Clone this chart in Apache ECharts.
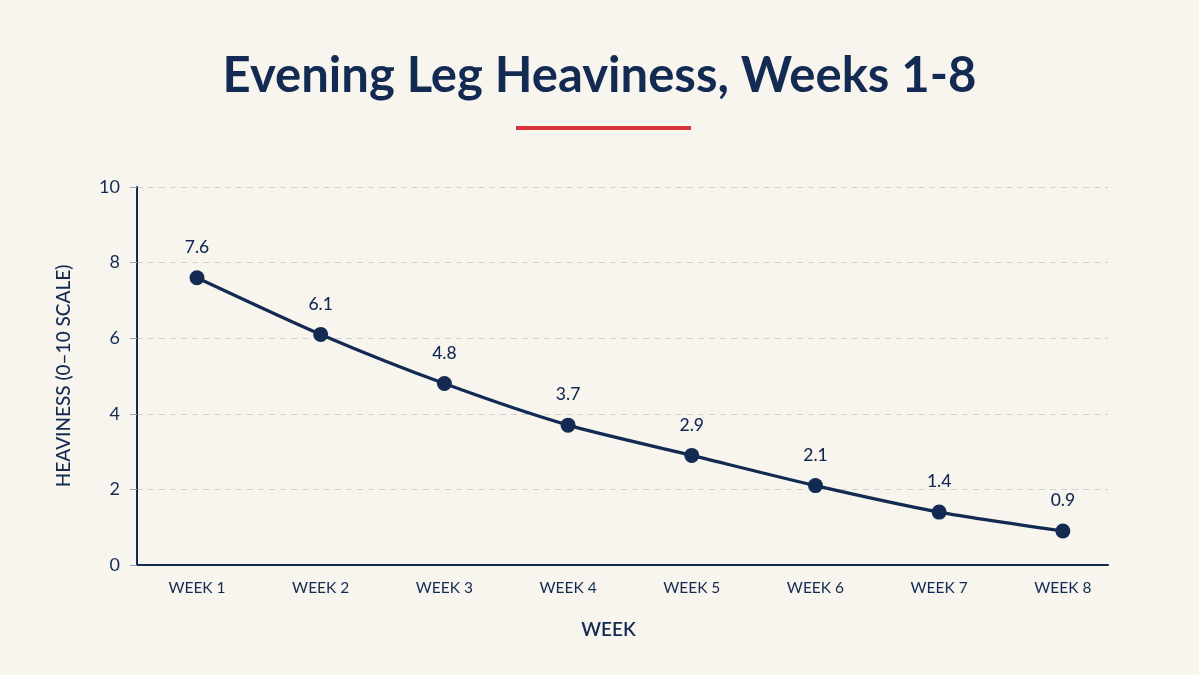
<!DOCTYPE html>
<html><head><meta charset="utf-8">
<script src="https://cdn.jsdelivr.net/npm/echarts@6/dist/echarts.min.js"></script>
<style>html,body{margin:0;padding:0;background:#f8f5ef;}#c{width:1199px;height:675px;}</style>
</head><body><div id="c"></div>
<script>
const titleText = 'Evening Leg Heaviness, Weeks 1-8';
const categories = ['WEEK 1','WEEK 2','WEEK 3','WEEK 4','WEEK 5','WEEK 6','WEEK 7','WEEK 8'];
const heaviness = [7.6, 6.1, 4.8, 3.7, 2.9, 2.1, 1.4, 0.9];
const yTicks = [0, 2, 4, 6, 8, 10];
const xName = 'WEEK';
const yName = 'HEAVINESS (0\u201310 SCALE)';

const navy = '#132a52';
const chart = echarts.init(document.getElementById('c'));
chart.setOption({
  backgroundColor: '#f8f5ef',
  animation: false,
  title: {
    text: titleText, left: 'center', top: 47,
    textStyle: { fontFamily: 'Lato', fontWeight: 700, fontSize: 49, color: navy }
  },
  graphic: [{ type: 'rect', shape: { x: 516, y: 126, width: 175, height: 4 }, style: { fill: '#d9323a' } }],
  grid: { left: 137, right: 91, top: 187, bottom: 110 },
  xAxis: {
    type: 'value', min: -0.485, max: 7.365,
    name: xName, nameLocation: 'middle', nameGap: 55,
    nameTextStyle: { fontFamily: 'Lato', fontSize: 19, fontWeight: 600, color: navy, padding: [0, 28, 0, 0] },
    axisLine: { show: true, onZero: false, lineStyle: { color: navy, width: 2 } },
    axisTick: { show: false },
    splitLine: { show: false },
    axisLabel: {
      customValues: categories.map((c, i) => i),
      formatter: v => categories[Math.round(v)] || '',
      margin: 15, fontFamily: 'Lato', fontSize: 15.5, color: navy
    }
  },
  yAxis: {
    type: 'value', min: 0, max: 10, interval: 2,
    name: yName, nameLocation: 'middle', nameGap: 64, nameRotate: 90,
    nameTextStyle: { fontFamily: 'Lato', fontSize: 19, fontWeight: 500, color: navy },
    axisLine: { show: true, onZero: false, lineStyle: { color: navy, width: 2 } },
    axisTick: { show: true, length: 7, lineStyle: { color: '#9aa0a8', width: 1 } },
    splitLine: { show: true, lineStyle: { color: '#cfcfcc', type: [6, 5], width: 1 } },
    axisLabel: {
      customValues: yTicks,
      margin: 17, fontFamily: 'Lato', fontSize: 18, color: navy
    }
  },
  series: [{
    type: 'line',
    data: heaviness.map((v, i) => [i, v]),
    smooth: 0.25,
    symbol: 'circle', symbolSize: 15,
    lineStyle: { color: navy, width: 3.2 },
    itemStyle: { color: navy },
    label: {
      show: true, position: 'top', distance: 14,
      fontFamily: 'Lato', fontSize: 17.5, fontWeight: 500, color: navy,
      formatter: p => p.value[1].toFixed(1)
    }
  }]
});
</script></body></html>
